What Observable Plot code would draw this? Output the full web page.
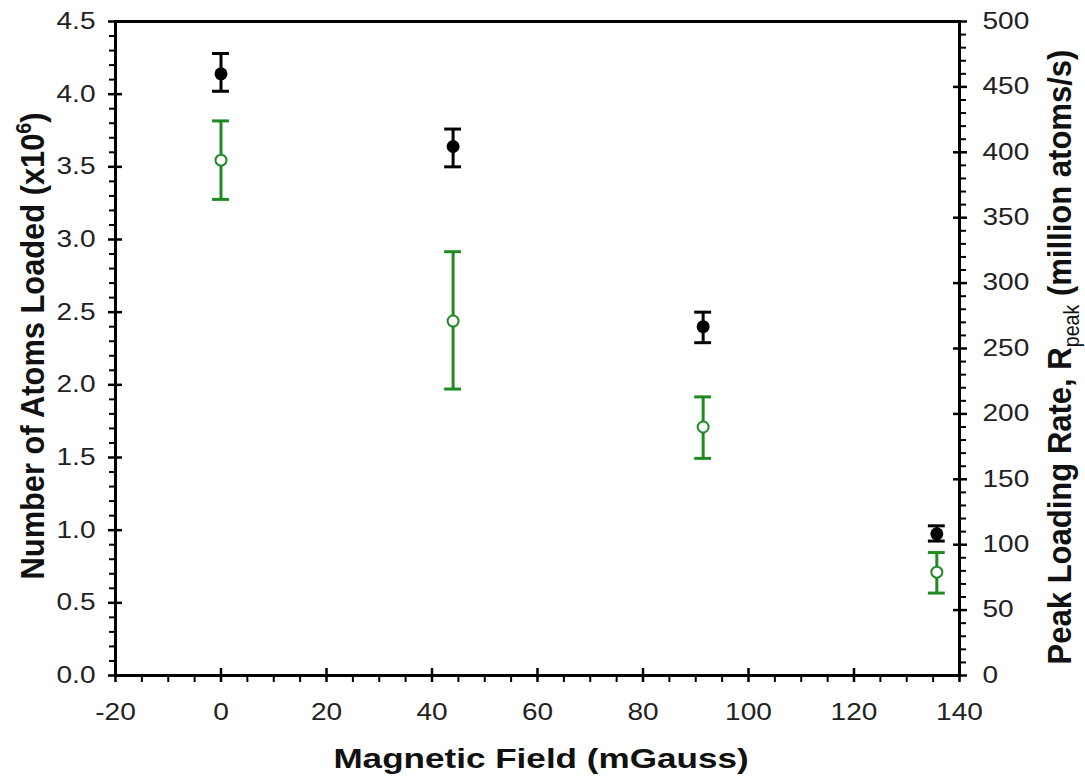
<!DOCTYPE html>
<html><head><meta charset="utf-8">
<script src="https://cdn.jsdelivr.net/npm/d3@7"></script>
<script src="https://cdn.jsdelivr.net/npm/@observablehq/plot@0.6"></script>
<style>html,body{margin:0;padding:0;background:#fff;} svg{display:block}</style>
</head><body><div id="chart"></div>
<script>
// ---- data ----
const fields   = [0, 44, 91.4, 135.7];          // Magnetic field (mGauss)
const atoms    = [4.14, 3.64, 2.40, 0.975];     // Number of atoms loaded (x10^6) — black, left axis
const atomsHi  = [4.28, 3.76, 2.50, 1.03];
const atomsLo  = [4.02, 3.50, 2.29, 0.925];
const rate     = [394, 271, 190, 79];           // Peak loading rate (million atoms/s) — green, right axis
const rateHi   = [424, 324, 213, 94];
const rateLo   = [364, 219, 166, 63];

const xTicks    = [-20, 0, 20, 40, 60, 80, 100, 120, 140];
const yTicks    = [0, 0.5, 1, 1.5, 2, 2.5, 3, 3.5, 4, 4.5];
const rateTicks = [0, 50, 100, 150, 200, 250, 300, 350, 400, 450, 500];

const xTitle = "Magnetic Field (mGauss)";
const yTitle = "Number of Atoms Loaded (x10";
const ySup = "6";
const rTitleA = "Peak Loading Rate, R";
const rTitleSub = "peak";
const rTitleB = " (million atoms/s)";

// ---- helpers ----
const K = 4.5 / 500; // right-axis units -> left-axis units
const xMinor = d3.range(-20, 141, 5).filter(v => v % 20 !== 0);
const yMinor = d3.range(0, 46, 1).map(v => v / 10).filter(v => Math.round(v * 10) % 5 !== 0);
const rMinor = d3.range(0, 501, 10).filter(v => v % 50 !== 0);

const atomsData = fields.map((x, i) => ({x, y: atoms[i], hi: atomsHi[i], lo: atomsLo[i]}));
const rateData  = fields.map((x, i) => ({x, y: rate[i] * K, hi: rateHi[i] * K, lo: rateLo[i] * K}));
const cap = 1.6;
const GREEN = "#1f8a24";
const FONT = "'Liberation Sans', Arial, Helvetica, sans-serif";
const none = () => "";
const rTicks = rateTicks.map(v => v * K);

const svg = Plot.plot({
  width: 1085, height: 779,
  marginLeft: 115, marginRight: 126, marginTop: 21, marginBottom: 104,
  style: {fontFamily: FONT, fontSize: "23px", color: "#222", background: "white", overflow: "visible"},
  x: {domain: [-20, 140]},
  y: {domain: [0, 4.5]},
  marks: [
    // minor ticks (outward)
    Plot.axisY({ticks: yMinor, tickSize: 6, tickFormat: none, label: null, strokeWidth: 2, color: "black"}),
    Plot.axisY({anchor: "right", ticks: rMinor.map(v => v * K), tickSize: 6, tickFormat: none, label: null, strokeWidth: 2, color: "black"}),
    Plot.axisX({ticks: xMinor, tickSize: 7, tickFormat: none, label: null, strokeWidth: 2, color: "black"}),
    // major ticks (crossing the axis: outward half + inward half)
    Plot.axisY({ticks: yTicks, tickSize: 7, tickFormat: none, label: null, strokeWidth: 2.5, color: "black"}),
    Plot.axisY({ticks: yTicks, tickSize: -7, tickFormat: none, label: null, strokeWidth: 2.5, color: "black"}),
    Plot.axisY({anchor: "right", ticks: rTicks, tickSize: 7, tickFormat: none, label: null, strokeWidth: 2.5, color: "black"}),
    Plot.axisY({anchor: "right", ticks: rTicks, tickSize: -7, tickFormat: none, label: null, strokeWidth: 2.5, color: "black"}),
    Plot.axisX({ticks: xTicks, tickSize: 7, tickFormat: none, label: null, strokeWidth: 2.5, color: "black"}),
    Plot.axisX({ticks: xTicks, tickSize: -7, tickFormat: none, label: null, strokeWidth: 2.5, color: "black"}),
    // tick labels
    Plot.axisY({ticks: yTicks, tickSize: 0, tickPadding: 20, tickFormat: d => d.toFixed(1), label: null}),
    Plot.axisY({anchor: "right", ticks: rTicks, tickSize: 0, tickPadding: 23, tickFormat: d => String(Math.round(d / K)), label: null}),
    Plot.axisX({ticks: xTicks, tickSize: 0, tickPadding: 28, tickFormat: d => String(d), label: null}),
    Plot.frame({stroke: "black", strokeWidth: 3}),
    // green series (right axis)
    Plot.ruleX(rateData, {x: "x", y1: "lo", y2: "hi", stroke: GREEN, strokeWidth: 3}),
    Plot.ruleY(rateData, {y: "hi", x1: d => d.x - cap, x2: d => d.x + cap, stroke: GREEN, strokeWidth: 3}),
    Plot.ruleY(rateData, {y: "lo", x1: d => d.x - cap, x2: d => d.x + cap, stroke: GREEN, strokeWidth: 3}),
    Plot.dot(rateData, {x: "x", y: "y", r: 5.5, stroke: GREEN, strokeWidth: 2, fill: "white"}),
    // black series (left axis)
    Plot.ruleX(atomsData, {x: "x", y1: "lo", y2: "hi", stroke: "black", strokeWidth: 3}),
    Plot.ruleY(atomsData, {y: "hi", x1: d => d.x - cap, x2: d => d.x + cap, stroke: "black", strokeWidth: 3}),
    Plot.ruleY(atomsData, {y: "lo", x1: d => d.x - cap, x2: d => d.x + cap, stroke: "black", strokeWidth: 3}),
    Plot.dot(atomsData, {x: "x", y: "y", r: 6.5, fill: "black"})
  ]
});

document.getElementById("chart").append(svg);

// widen tick labels horizontally like the reference
svg.querySelectorAll('g[aria-label$="tick label"] text').forEach(t => {
  const tr = t.getAttribute("transform") || "";
  t.setAttribute("transform", tr + " scale(1.22,1)");
});

// axis titles
const s = d3.select(svg);
const tg = s.append("g").attr("font-family", FONT).attr("font-weight", "bold").attr("fill", "#111");

tg.append("text").attr("text-anchor", "middle").attr("font-size", 27)
  .attr("transform", "translate(541,768) scale(1.3,1)").text(xTitle);

const lt = tg.append("text").attr("text-anchor", "middle").attr("font-size", 30);
lt.append("tspan").text(yTitle);
lt.append("tspan").attr("font-size", 19).attr("dy", -12).text(ySup);
lt.append("tspan").attr("dy", 12).text(")");
const lLen = lt.node().getComputedTextLength();
lt.attr("transform", `translate(44,346) rotate(-90) scale(${467 / lLen},1.12)`);

const rt = tg.append("text").attr("text-anchor", "middle").attr("font-size", 30);
rt.append("tspan").text(rTitleA);
rt.append("tspan").attr("font-size", 19).attr("font-weight", "normal").attr("dy", 7).text(rTitleSub);
rt.append("tspan").attr("dy", -7).text(rTitleB);
const rLen = rt.node().getComputedTextLength();
rt.attr("transform", `translate(1071,357) rotate(-90) scale(${615 / rLen},1.12)`);
</script>
</body></html>
